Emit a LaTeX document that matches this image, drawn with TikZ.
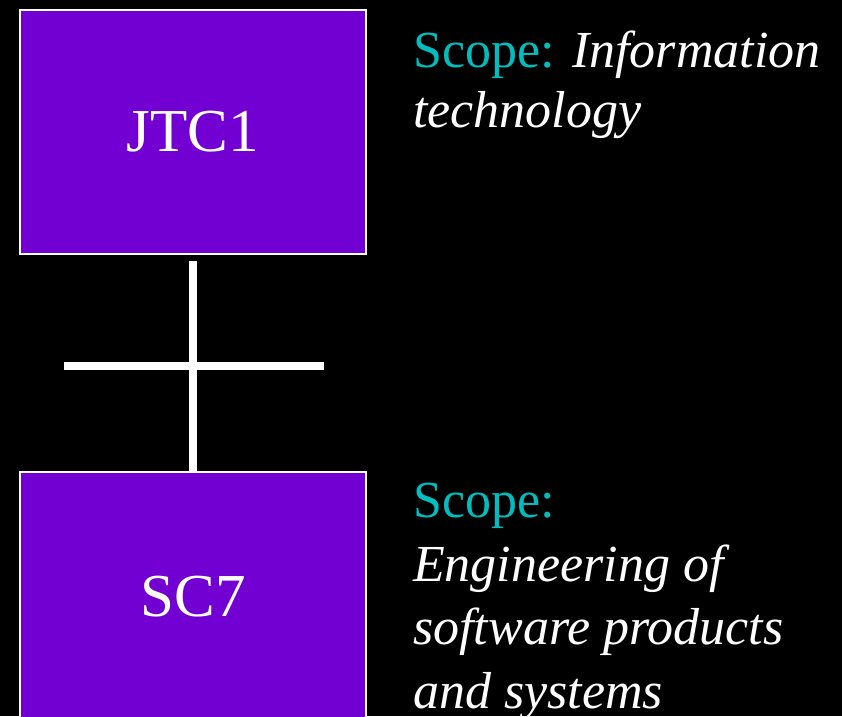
\documentclass[tikz,border=0pt]{standalone}
\usepackage{fontspec}
\setmainfont{Liberation Serif}
\definecolor{boxpurple}{RGB}{115,0,211}
\definecolor{scopeteal}{RGB}{0,190,190}
\begin{document}
\begin{tikzpicture}[x=1pt,y=-1pt,
  box/.style={draw=white, line width=2pt, fill=boxpurple, minimum width=346pt, minimum height=244pt, inner sep=0pt, outer sep=0pt, text=white, font=\fontsize{61}{61}\selectfont},
  conn/.style={draw=white, line width=8pt},
  scopetext/.style={text=white, anchor=base west, inner sep=0pt, align=left, font=\fontsize{52}{60}\selectfont}]
\fill[black] (0,0) rectangle (842,716);
\useasboundingbox (0,0) rectangle (842,716);
\node[box] (jtc) at (193,132) {JTC1};
\node[box, minimum height=250pt] (sc) at (193,597) {SC7};
\draw[conn, shorten <=7pt] (jtc.south) -- (sc.north);
\coordinate (hl) at (64,366);
\coordinate (hr) at (324,366);
\draw[conn] (hl) -- (hr);
\node[scopetext] (s1) at (413,127) {\textcolor{scopeteal}{Scope:} \textit{Information}\\\textit{technology}};
\node[scopetext, font=\fontsize{52}{63.5}\selectfont] (s2) at (413,708) {\textcolor{scopeteal}{Scope:}\\\textit{Engineering of}\\\textit{software products}\\\textit{and systems}};
\end{tikzpicture}
\end{document}
